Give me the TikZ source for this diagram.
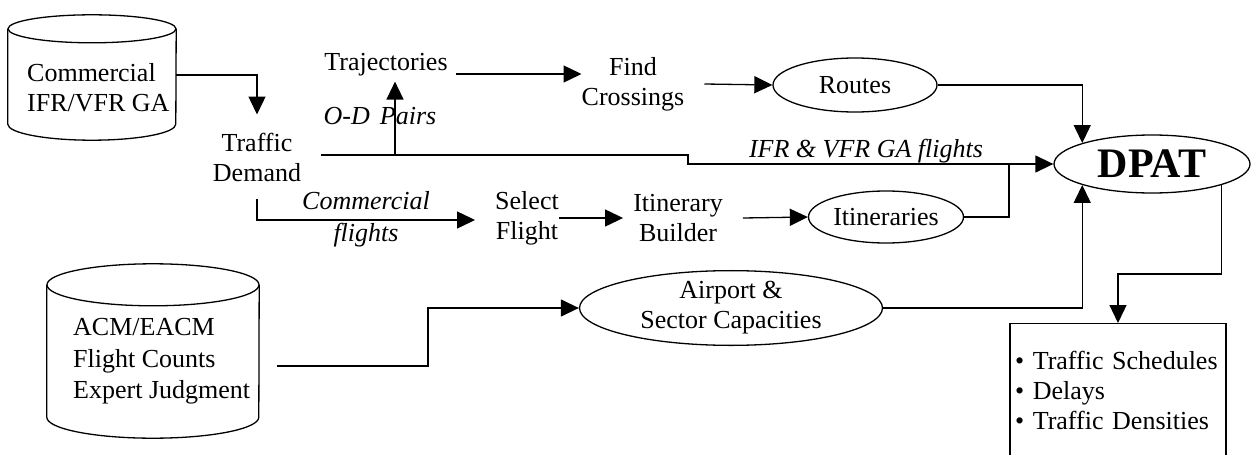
\documentclass[tikz,border=0pt]{standalone}
\usepackage{fontspec}
\setmainfont{Liberation Serif}
\usetikzlibrary{arrows.meta,shapes.geometric}
\begin{document}
\begin{tikzpicture}[x=1pt,y=-1pt,
  every node/.style={font=\fontsize{26}{30}\selectfont, inner sep=0pt},
  lbl/.style={align=center},
  ell/.style={draw, ellipse, line width=1.3pt, inner sep=0pt, align=center},
  conn/.style={line width=1.3pt},
  arr/.style={conn, -{Triangle[length=18pt,width=17pt]}},
  cylb/.style={line width=1.3pt}]
\clip (0,0) rectangle (1251,455);

% cylinder 1
\node[minimum width=168pt, minimum height=95pt] (cyl1) at (92,76.5) {};
\draw[cylb] (cyl1.north west) -- (cyl1.south west)
  arc[start angle=180,end angle=360,x radius=84pt,y radius=16pt] -- (cyl1.north east);
\draw[cylb] (cyl1.north) ellipse[x radius=84pt, y radius=14pt];
\node[align=left, anchor=west] (cyl1t) at (27,87.5) {Commercial\\IFR/VFR GA};

% cylinder 2
\node[minimum width=212pt, minimum height=132pt] (cyl2) at (153,351) {};
\draw[cylb] (cyl2.north west) -- (cyl2.south west)
  arc[start angle=180,end angle=360,x radius=106pt,y radius=21pt] -- (cyl2.north east);
\draw[cylb] (cyl2.north) ellipse[x radius=106pt, y radius=21pt];
\node[align=left, anchor=west, font=\fontsize{26}{31.5}\selectfont] (cyl2t) at (73,361.5) {ACM/EACM\\Flight Counts\\Expert Judgment};

% text nodes
\node[lbl, inner xsep=20pt, inner ysep=18pt] (td) at (257,157) {Traffic\\Demand};
\node[inner xsep=8pt, inner ysep=5pt] (traj) at (386,65) {Trajectories};
\node[lbl] (find) at (633,84) {Find\\Crossings};
\node[lbl] (sel) at (527,218) {Select\\Flight};
\node[lbl] (itb) at (678,218) {Itinerary\\Builder};

% ellipses
\node[ell, minimum width=164pt, minimum height=54pt] (routes) at (855,85) {Routes};
\node[ell, minimum width=155pt, minimum height=52pt] (itin) at (886,217) {Itineraries};
\node[ell, minimum width=303pt, minimum height=64pt] (airport) at (731,308) {Airport \&\\Sector Capacities};
\node[ell, minimum width=196pt, minimum height=58pt, font=\fontsize{42}{48}\selectfont\bfseries] (dpat) at (1152,164) {DPAT};

% output box
\node[draw, line width=1.3pt, anchor=north, minimum width=216pt, minimum height=134pt,
  align=left, text width=206pt, inner xsep=5pt] (outbox) at (1118,323)
  {\textbullet{} Traffic Schedules\\\textbullet{} Delays\\\textbullet{} Traffic Densities};

% labels
\node (odl) at (380,116) {\textit{O-D\hspace{10pt}Pairs}};
\node (ifrl) at (866,151) {\textit{IFR \& VFR GA flights}};

% coordinates
\coordinate (odb) at (395,155);
\coordinate (bend1) at (688,155);
\coordinate (junc) at (1009,163);
\coordinate (acmout) at (277,366);
\coordinate (bend2) at (428,366);

% connectors
\draw[arr] (cyl1.east |- 0,75) -| (td.north);
\draw[arr] (td.east |- 0,155) -- (bend1) |- (dpat.west);
\draw[arr] (odb) -- (odb |- traj.south);
\draw[arr] ([yshift=-9pt]traj.east) -- ([yshift=-9pt]traj.east -| find.west);
\draw[arr] ([xshift=20pt]find.east) -- (routes.west);
\draw[arr] (routes.east) -| (dpat.north west);
\draw[arr] (td.south) |- ([xshift=-20pt,yshift=-2pt]sel.west)
  node[pos=0.75, above=10pt] {\textit{Commercial}}
  node[pos=0.75, below=3pt] {\textit{flights}};
\draw[arr] (sel.east) -- ([xshift=-10pt]itb.west);
\draw[arr] ([xshift=20pt]itb.east) -- (itin.west);
\draw[conn] (itin.east) -| (junc);
\draw[arr] (acmout) -- (bend2) |- (airport.west);
\draw[arr] (airport.east) -| (dpat.south west);
\draw[arr] (dpat.south east) -- (dpat.south east |- 0,274) -| (outbox.north);
\end{tikzpicture}
\end{document}
